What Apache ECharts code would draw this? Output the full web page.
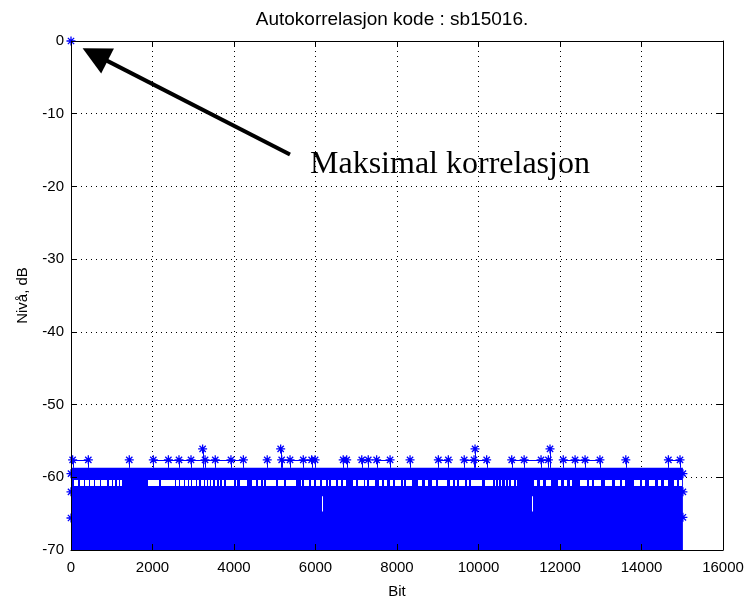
<!DOCTYPE html>
<html>
<head>
<meta charset="utf-8">
<title>Autokorrelasjon kode : sb15016.</title>
<script src="https://cdn.jsdelivr.net/npm/echarts@6/dist/echarts.min.js"></script>
<style>
  html, body { margin: 0; padding: 0; background: #fff; }
  #main { width: 750px; height: 604px; }
</style>
</head>
<body>
<div id="main"></div>
<script>
// ---- data ----
const bitTicks = [0, 2000, 4000, 6000, 8000, 10000, 12000, 14000, 16000];
const dbTicks = [-70, -60, -50, -40, -30, -20, -10, 0];

// the dense part of the correlation: filled from the floor up to this level
const bandBits = [0, 15016];
const bandTop = -58.7;

// white dashes inside the band (bit runs), and the level range they cover
const gapLevels = [-60.4, -61.2];
const gapRuns = [
  [74, 180], [213, 303], [335, 433], [466, 556], [589, 712], [744, 900], [932, 998],
  [1031, 1088], [1121, 1170], [1202, 1251], [1890, 2151], [2200, 2536], [2568, 2634],
  [2667, 2757], [2789, 2863], [2896, 2945], [2977, 3067], [3100, 3149], [3182, 3247],
  [3280, 3337], [3370, 3411], [3444, 3493], [3534, 3575], [3624, 3657], [3706, 3755],
  [3812, 4000], [4049, 4082], [4139, 4311], [4442, 4532], [4581, 4655], [4704, 4736],
  [4786, 5023], [5072, 5227], [5276, 5514], [5644, 5677], [5726, 5841], [5890, 5963],
  [6013, 6111], [6160, 6250], [6299, 6332], [6381, 6495], [6544, 6618], [6667, 6741],
  [6912, 6986], [7035, 7174], [7223, 7272], [7321, 7460], [7550, 7623], [7681, 7762],
  [7820, 7885], [7942, 8090], [8147, 8171], [8229, 8376], [8515, 8621], [8687, 8769],
  [8858, 8949], [9006, 9227], [9292, 9357], [9415, 9456], [9513, 9668], [9726, 9766],
  [9824, 10094], [10151, 10339], [10396, 10421], [10478, 10503], [10560, 10585],
  [10642, 10666], [10724, 10748], [10805, 10871], [10928, 10953], [11370, 11452],
  [11517, 11599], [11665, 11795], [11959, 12024], [12106, 12188], [12237, 12286],
  [12491, 12654], [12712, 12777], [12842, 13022], [13104, 13284], [13350, 13472],
  [13530, 13595], [13808, 13963], [14020, 14086], [14184, 14331], [14397, 14478],
  [14544, 14642], [14789, 14863], [14920, 14986]
];

// two thin white slits lower in the band
const slitBits = [6152, 11306];
const slitLevels = [-62.6, -64.7];

// peaks sticking out of the band, grouped where they appear joined
const peakLevel = -57.6;
const peakClusters = [
  [40, 425], [1430], [2020, 2390, 2650, 2945, 3290, 3540, 3925, 4230], [4815],
  [5170, 5375, 5700, 5905, 5990], [6680, 6765], [7135, 7295], [7500, 7830], [8320],
  [9015, 9260], [9650, 9890, 10200], [10815, 11120, 11535, 11715],
  [12080, 12370, 12615, 12980], [13615], [14660, 14945]
];
const highLevel = -56.1;
const highBits = [3230, 5145, 9915, 11755];

// first and last points of the code, and the main lobe
const edgePoints = [[0, -59.5], [0, -62.0], [0, -65.6], [15016, -59.5], [15016, -62.0], [15016, -65.5]];
const mainLobe = [0, 0];

// annotation
const noteText = 'Maksimal korrelasjon';
const arrowFrom = [5374, -15.6];
const arrowTo = [591, -1.87];
const notePos = [5865, -19.2];

// ---- chart ----
const sans = '"Liberation Sans", Arial, Helvetica, sans-serif';
const blue = '#0000ff';
const starPath = 'path://M5,0L5,10M0,5L10,5M1.5,1.5L8.5,8.5M1.5,8.5L8.5,1.5';

const stars = [mainLobe].concat(edgePoints);
peakClusters.forEach(c => c.forEach(b => stars.push([b, peakLevel])));
highBits.forEach(b => stars.push([b, highLevel]));

const stems = [];
peakClusters.forEach(c => c.forEach(b => stems.push([b, peakLevel])));
highBits.forEach(b => stems.push([b, highLevel]));

// [first bit, level, last bit]
const links = peakClusters.filter(c => c.length > 1).map(c => [c[0], peakLevel, c[c.length - 1]]);

const chart = echarts.init(document.getElementById('main'));

const axisCommon = {
  type: 'value',
  axisLine: { show: true, onZero: false, lineStyle: { color: '#000', width: 1 } },
  axisTick: { show: true, inside: true, length: 6, lineStyle: { color: '#000' } }
};

const option = {
  animation: false,
  backgroundColor: '#fff',
  title: {
    text: 'Autokorrelasjon kode : sb15016.',
    left: 387,
    textAlign: 'center',
    top: 5,
    textStyle: { fontFamily: sans, fontSize: 19, fontWeight: 'normal', color: '#000' }
  },
  grid: { left: 71, right: 27, top: 41, bottom: 52, containLabel: false },
  xAxis: [
    Object.assign({}, axisCommon, {
      position: 'bottom',
      min: bitTicks[0], max: bitTicks[bitTicks.length - 1], interval: bitTicks[1] - bitTicks[0],
      axisLabel: { color: '#000', fontFamily: sans, fontSize: 15, margin: 10, formatter: v => String(v) },
      splitLine: { show: false },
      name: 'Bit', nameLocation: 'middle', nameGap: 34,
      nameTextStyle: { color: '#000', fontFamily: sans, fontSize: 15 },
      z: 10
    }),
    Object.assign({}, axisCommon, {
      position: 'top',
      min: bitTicks[0], max: bitTicks[bitTicks.length - 1], interval: bitTicks[1] - bitTicks[0],
      axisLabel: { show: false },
      splitLine: { show: true, lineStyle: { color: '#000', type: [1, 4], width: 1 } },
      z: 0
    })
  ],
  yAxis: [
    Object.assign({}, axisCommon, {
      position: 'left',
      min: dbTicks[0], max: dbTicks[dbTicks.length - 1], interval: dbTicks[1] - dbTicks[0],
      axisLabel: { color: '#000', fontFamily: sans, fontSize: 15, margin: 7 },
      splitLine: { show: false },
      name: 'Nivå, dB', nameLocation: 'middle', nameGap: 41, nameRotate: 90,
      nameTextStyle: { color: '#000', fontFamily: sans, fontSize: 15 },
      z: 10
    }),
    Object.assign({}, axisCommon, {
      position: 'right',
      min: dbTicks[0], max: dbTicks[dbTicks.length - 1], interval: dbTicks[1] - dbTicks[0],
      axisLabel: { show: false },
      splitLine: { show: true, lineStyle: { color: '#000', type: [1, 4], width: 1 } },
      z: 0
    })
  ],
  series: [
    {
      name: 'band',
      type: 'line',
      data: bandBits.map(b => [b, bandTop]),
      symbol: 'none',
      lineStyle: { width: 0, color: blue },
      areaStyle: { color: blue, opacity: 1, origin: 'start' },
      silent: true,
      z: 2
    },
    {
      name: 'gaps',
      type: 'custom',
      data: gapRuns,
      silent: true,
      z: 3,
      renderItem: function (params, api) {
        const a = api.coord([api.value(0), gapLevels[0]]);
        const b = api.coord([api.value(1), gapLevels[1]]);
        return {
          type: 'rect',
          shape: { x: Math.round(a[0]), y: Math.round(a[1]), width: Math.max(1, Math.round(b[0] - a[0])), height: Math.round(b[1] - a[1]) },
          style: { fill: '#fff' }
        };
      }
    },
    {
      name: 'slits',
      type: 'custom',
      data: slitBits,
      silent: true,
      z: 3,
      renderItem: function (params, api) {
        const a = api.coord([api.value(0), slitLevels[0]]);
        const b = api.coord([api.value(0), slitLevels[1]]);
        return {
          type: 'rect',
          shape: { x: Math.round(a[0]), y: a[1], width: 1, height: b[1] - a[1] },
          style: { fill: '#fff' }
        };
      }
    },
    {
      name: 'stems',
      type: 'custom',
      data: stems,
      silent: true,
      z: 4,
      renderItem: function (params, api) {
        const a = api.coord([api.value(0), bandTop]);
        const b = api.coord([api.value(0), api.value(1)]);
        const x = Math.round(a[0]) + 0.5;
        return {
          type: 'line',
          shape: { x1: x, y1: a[1], x2: x, y2: b[1] },
          style: { stroke: blue, lineWidth: 1 }
        };
      }
    },
    {
      name: 'links',
      type: 'custom',
      data: links,
      silent: true,
      z: 4,
      renderItem: function (params, api) {
        const a = api.coord([api.value(0), api.value(1)]);
        const b = api.coord([api.value(2), api.value(1)]);
        const y = Math.round(a[1]) + 0.5;
        return {
          type: 'line',
          shape: { x1: a[0], y1: y, x2: b[0], y2: y },
          style: { stroke: blue, lineWidth: 1 }
        };
      }
    },
    {
      name: 'stars',
      type: 'scatter',
      data: stars,
      symbol: starPath,
      symbolSize: 9,
      itemStyle: { color: blue, borderColor: blue, borderWidth: 1.3, opacity: 1 },
      silent: true,
      z: 5,
      markLine: {
        silent: true,
        symbol: ['none', 'triangle'],
        symbolSize: 28,
        label: { show: false },
        lineStyle: { color: '#000', width: 4, type: 'solid', opacity: 1 },
        itemStyle: { color: '#000' },
        emphasis: { disabled: true },
        data: [[{ coord: arrowFrom }, { coord: arrowTo }]]
      }
    }
  ]
};

chart.setOption(option);

const p = chart.convertToPixel({ xAxisIndex: 0, yAxisIndex: 0 }, notePos);
chart.setOption({
  graphic: [{
    type: 'text',
    x: p[0],
    y: p[1],
    silent: true,
    z: 20,
    style: {
      text: noteText,
      fill: '#000',
      font: '32px "Liberation Serif", "Times New Roman", serif',
      textAlign: 'left',
      textVerticalAlign: 'bottom',
      align: 'left',
      verticalAlign: 'bottom'
    }
  }]
});
</script>
</body>
</html>
